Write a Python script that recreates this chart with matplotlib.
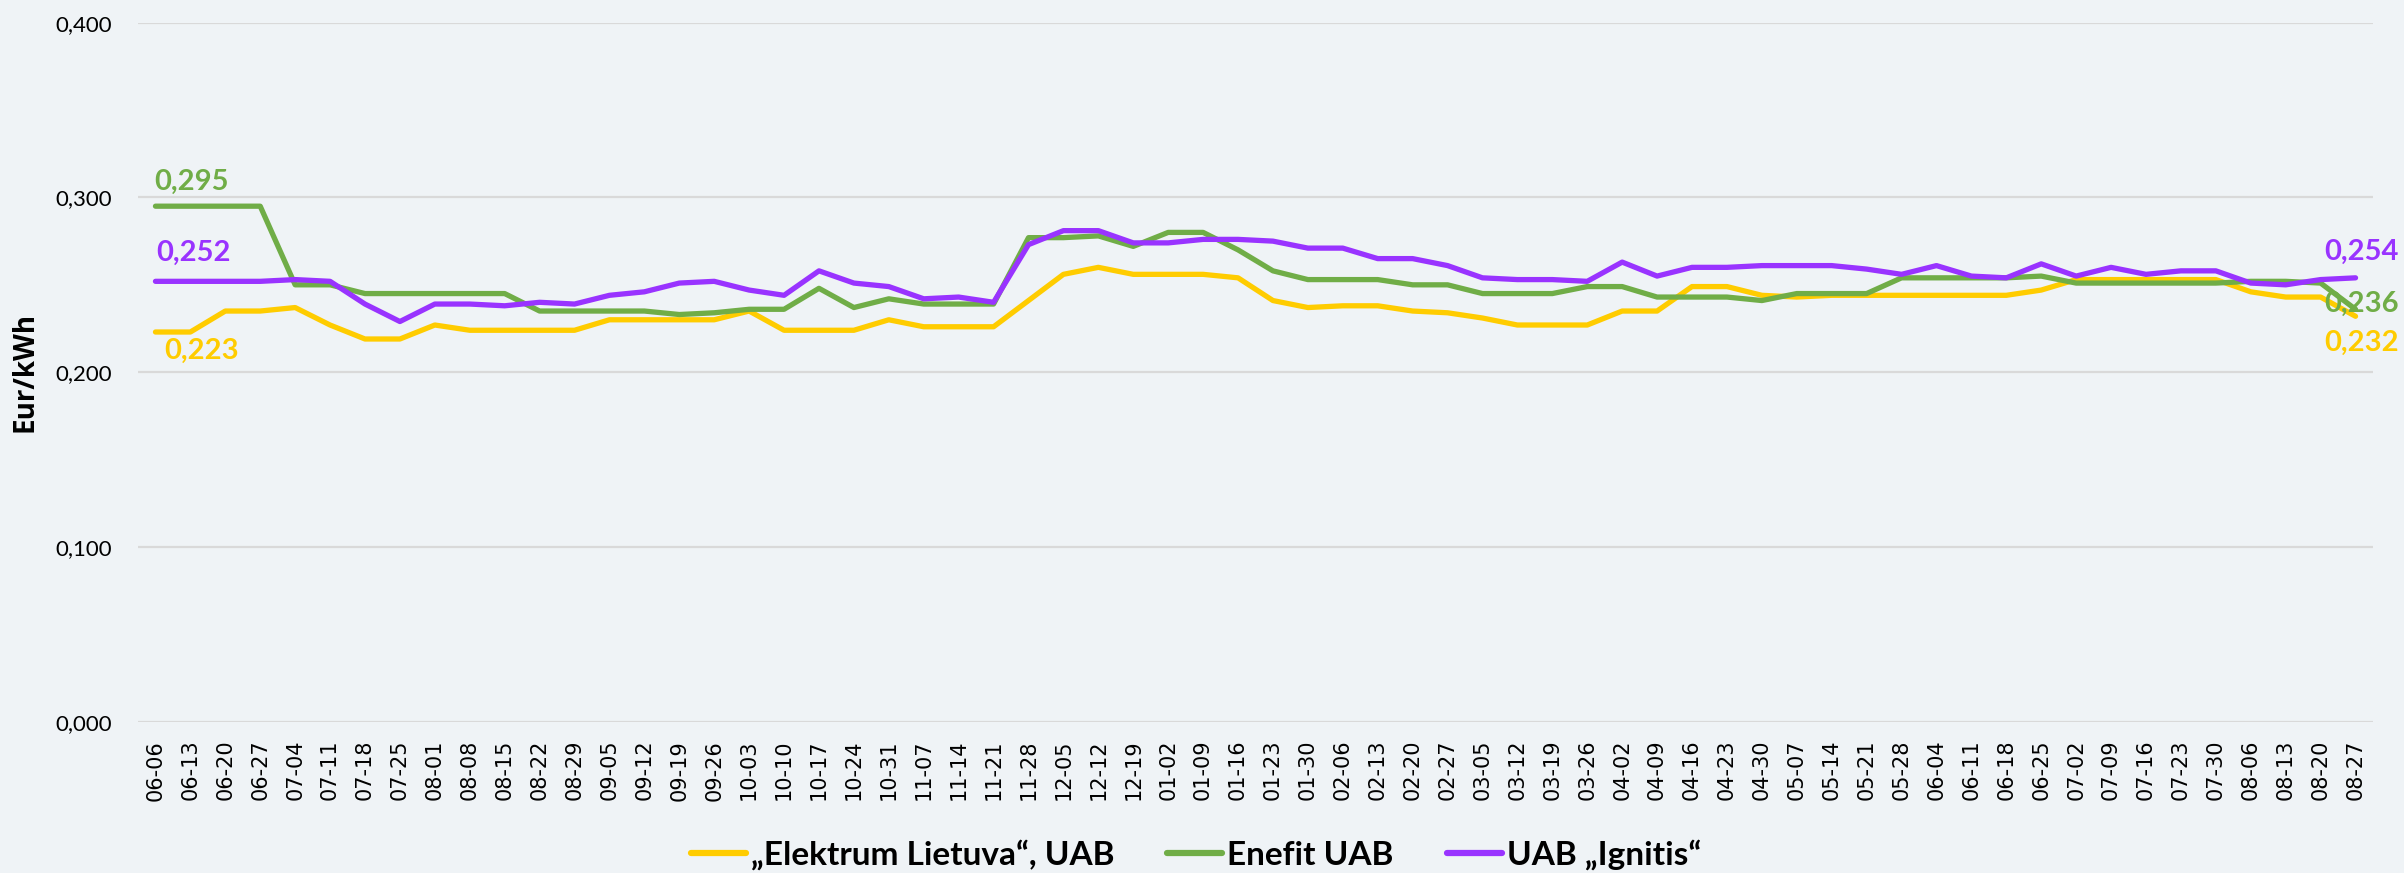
import matplotlib
matplotlib.use("Agg")
import matplotlib.pyplot as plt
import numpy as np

# weekly dates (MM-DD)
weeks = [
    "06-06", "06-13", "06-20", "06-27", "07-04", "07-11", "07-18", "07-25",
    "08-01", "08-08", "08-15", "08-22", "08-29", "09-05", "09-12", "09-19",
    "09-26", "10-03", "10-10", "10-17", "10-24", "10-31", "11-07", "11-14",
    "11-21", "11-28", "12-05", "12-12", "12-19", "01-02", "01-09", "01-16",
    "01-23", "01-30", "02-06", "02-13", "02-20", "02-27", "03-05", "03-12",
    "03-19", "03-26", "04-02", "04-09", "04-16", "04-23", "04-30", "05-07",
    "05-14", "05-21", "05-28", "06-04", "06-11", "06-18", "06-25", "07-02",
    "07-09", "07-16", "07-23", "07-30", "08-06", "08-13", "08-20", "08-27",
]

elektrum = [
    0.223, 0.223, 0.235, 0.235, 0.237, 0.227, 0.219, 0.219,
    0.227, 0.224, 0.224, 0.224, 0.224, 0.230, 0.230, 0.230,
    0.230, 0.235, 0.224, 0.224, 0.224, 0.230, 0.226, 0.226,
    0.226, 0.241, 0.256, 0.260, 0.256, 0.256, 0.256, 0.254,
    0.241, 0.237, 0.238, 0.238, 0.235, 0.234, 0.231, 0.227,
    0.227, 0.227, 0.235, 0.235, 0.249, 0.249, 0.244, 0.243,
    0.244, 0.244, 0.244, 0.244, 0.244, 0.244, 0.247, 0.253,
    0.253, 0.253, 0.253, 0.253, 0.246, 0.243, 0.243, 0.232,
]

enefit = [
    0.295, 0.295, 0.295, 0.295, 0.250, 0.250, 0.245, 0.245,
    0.245, 0.245, 0.245, 0.235, 0.235, 0.235, 0.235, 0.233,
    0.234, 0.236, 0.236, 0.248, 0.237, 0.242, 0.239, 0.239,
    0.239, 0.277, 0.277, 0.278, 0.272, 0.280, 0.280, 0.270,
    0.258, 0.253, 0.253, 0.253, 0.250, 0.250, 0.245, 0.245,
    0.245, 0.249, 0.249, 0.243, 0.243, 0.243, 0.241, 0.245,
    0.245, 0.245, 0.254, 0.254, 0.254, 0.254, 0.255, 0.251,
    0.251, 0.251, 0.251, 0.251, 0.252, 0.252, 0.251, 0.236,
]

ignitis = [
    0.252, 0.252, 0.252, 0.252, 0.253, 0.252, 0.239, 0.229,
    0.239, 0.239, 0.238, 0.240, 0.239, 0.244, 0.246, 0.251,
    0.252, 0.247, 0.244, 0.258, 0.251, 0.249, 0.242, 0.243,
    0.240, 0.273, 0.281, 0.281, 0.274, 0.274, 0.276, 0.276,
    0.275, 0.271, 0.271, 0.265, 0.265, 0.261, 0.254, 0.253,
    0.253, 0.252, 0.263, 0.255, 0.260, 0.260, 0.261, 0.261,
    0.261, 0.259, 0.256, 0.261, 0.255, 0.254, 0.262, 0.255,
    0.260, 0.256, 0.258, 0.258, 0.251, 0.250, 0.253, 0.254,
]

series_names = ["\u201eElektrum Lietuva\u201c, UAB", "Enefit UAB", "UAB \u201eIgnitis\u201c"]
series_colors = ["#FFCC00", "#70AD47", "#9933FF"]

y_ticks = [0.0, 0.1, 0.2, 0.3, 0.4]
y_tick_labels = ["0,000", "0,100", "0,200", "0,300", "0,400"]

bg = "#EFF3F6"
W, H = 2404, 873
fig = plt.figure(figsize=(W / 100, H / 100), dpi=100, facecolor=bg)

# plot area in pixels: x 138..2373, y 22.7..721.7 (from top)
ax = fig.add_axes([138 / W, 1 - 721.7 / H, 2235 / W, 699 / H])
ax.set_facecolor(bg)

x = np.arange(len(weeks))
for vals, name, col in zip([elektrum, enefit, ignitis], series_names, series_colors):
    ax.plot(x, vals, color=col, lw=3.8, label=name,
            solid_capstyle="round", solid_joinstyle="round")

ax.set_xlim(-0.5, len(weeks) - 0.5)
ax.set_ylim(0, 0.4)

ax.set_yticks(y_ticks)
ax.set_yticklabels(y_tick_labels, family="Lato", fontsize=16)
ax.set_xticks(x)
ax.set_xticklabels(weeks, rotation=90, family="DejaVu Sans", fontsize=15)
ax.tick_params(axis="y", length=0, pad=19)
ax.tick_params(axis="x", length=0, pad=13)

ax.grid(axis="y", color="#D9D9D9", lw=1.6)
ax.set_axisbelow(True)
for s in ax.spines.values():
    s.set_visible(False)

fig.text(25 / W, 1 - 372 / H, "Eur/kWh", rotation=90, ha="center", va="center",
         family="Open Sans", fontweight="bold", fontsize=20)

# data labels at first and last points (offsets in pixels)
px = 100 / 72
lab_style = dict(family="Lato", fontweight="bold", fontsize=21,
                 textcoords="offset points", va="center")
first = [(elektrum, series_colors[0], 9, -19), (enefit, series_colors[1], -1, 24),
         (ignitis, series_colors[2], 1, 28)]
for vals, col, dx, dy in first:
    ax.annotate(f"{vals[0]:.3f}".replace(".", ","), (x[0], vals[0]),
                xytext=(dx / px, dy / px), ha="left", color=col, **lab_style)
last = [(elektrum, series_colors[0], 6, -27), (enefit, series_colors[1], 6, 5),
        (ignitis, series_colors[2], 6, 26)]
for vals, col, dx, dy in last:
    ax.annotate(f"{vals[-1]:.3f}".replace(".", ","), (x[-1], vals[-1]),
                xytext=(dx / px, dy / px), ha="center", color=col,
                annotation_clip=False, **lab_style)

leg = fig.legend(loc="center", bbox_to_anchor=(1196 / W, 1 - 855 / H), ncol=3,
                 frameon=False, prop={"family": "Lato", "weight": "bold", "size": 24},
                 handlelength=1.65, handletextpad=0.15, columnspacing=1.6)
for h in leg.legend_handles:
    h.set_linewidth(4.5)

fig.savefig("out.png", dpi=100, facecolor=bg)
